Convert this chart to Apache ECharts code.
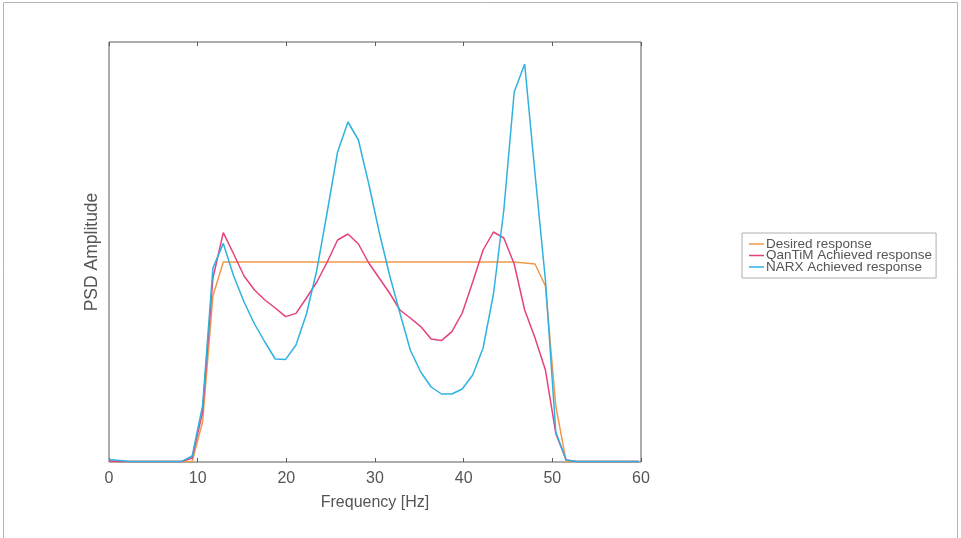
<!DOCTYPE html>
<html>
<head>
<meta charset="utf-8">
<script src="https://cdn.jsdelivr.net/npm/echarts@6/dist/echarts.min.js"></script>
<style>
  html, body { margin: 0; padding: 0; background: #fff; }
  #chart { width: 961px; height: 538px; }
</style>
</head>
<body>
<div id="chart"></div>
<script>
// Frequency bins (Hz), 300/256 Hz spacing
const freqHz = [
  0.00, 1.17, 2.34, 3.52, 4.69, 5.86, 7.03, 8.20, 9.38, 10.55,
  11.72, 12.89, 14.06, 15.23, 16.41, 17.58, 18.75, 19.92, 21.09, 22.27,
  23.44, 24.61, 25.78, 26.95, 28.13, 29.30, 30.47, 31.64, 32.81, 33.98,
  35.16, 36.33, 37.50, 38.67, 39.84, 41.02, 42.19, 43.36, 44.53, 45.70,
  46.88, 48.05, 49.22, 50.39, 51.56, 52.73, 53.91, 55.08, 56.25, 57.42,
  58.59, 59.77
];

// Target band-limited PSD (flat between ~13 and ~48 Hz)
const desiredPsd = [
  0.003, 0.003, 0.003, 0.003, 0.003, 0.003, 0.003, 0.003, 0.003, 0.20,
  0.83, 1.0, 1.0, 1.0, 1.0, 1.0, 1.0, 1.0, 1.0, 1.0,
  1.0, 1.0, 1.0, 1.0, 1.0, 1.0, 1.0, 1.0, 1.0, 1.0,
  1.0, 1.0, 1.0, 1.0, 1.0, 1.0, 1.0, 1.0, 1.0, 1.0,
  0.995, 0.99, 0.88, 0.28, 0.003, 0.003, 0.003, 0.003, 0.003, 0.003,
  0.003, 0.003
];

// PSD achieved with the QanTiM controller
const qantimPsd = [
  0.005, 0.003, 0.002, 0.002, 0.002, 0.002, 0.002, 0.002, 0.02, 0.25,
  0.92, 1.147, 1.04, 0.93, 0.86, 0.81, 0.77, 0.727, 0.743, 0.82,
  0.90, 1.0, 1.11, 1.14, 1.09, 0.995, 0.92, 0.845, 0.76, 0.72,
  0.677, 0.615, 0.607, 0.652, 0.745, 0.90, 1.06, 1.15, 1.12, 0.99,
  0.76, 0.62, 0.46, 0.143, 0.01, 0.002, 0.002, 0.002, 0.002, 0.002,
  0.002, 0.002
];

// PSD achieved with the NARX controller
const narxPsd = [
  0.012, 0.008, 0.003, 0.002, 0.002, 0.002, 0.002, 0.003, 0.03, 0.28,
  0.97, 1.093, 0.93, 0.80, 0.69, 0.60, 0.515, 0.513, 0.585, 0.74,
  0.96, 1.25, 1.55, 1.70, 1.61, 1.39, 1.15, 0.935, 0.745, 0.56,
  0.45, 0.375, 0.34, 0.34, 0.365, 0.435, 0.57, 0.84, 1.26, 1.85,
  1.99, 1.44, 0.91, 0.15, 0.01, 0.002, 0.002, 0.002, 0.002, 0.002,
  0.002, 0.002
];

const seriesNames = ['Desired response', 'QanTiM Achieved response', 'NARX Achieved response'];
const seriesColors = ['#f0994a', '#e4417f', '#2fb2e0'];
const xTicks = { min: 0, max: 60, interval: 10 };

const pairs = (ys) => freqHz.map((f, i) => [f, ys[i]]);

const chart = echarts.init(document.getElementById('chart'));
const font = 'Liberation Sans, Arial, sans-serif';

chart.setOption({
  animation: false,
  backgroundColor: '#ffffff',
  graphic: [{
    type: 'rect',
    shape: { x: 3.5, y: 2.5, width: 954, height: 560 },
    style: { fill: 'none', stroke: '#b4b4b4', lineWidth: 1 },
    silent: true
  }],
  grid: {
    left: 109, right: 320, top: 42, bottom: 76,
    show: true, borderColor: '#5a5a5a', borderWidth: 1, backgroundColor: 'transparent'
  },
  legend: {
    data: seriesNames.map((n, k) => ({ name: n, itemStyle: { color: seriesColors[k] } })),
    orient: 'vertical',
    left: 742, top: 233,
    padding: [4, 4, 4, 7],
    itemGap: -2.5,
    icon: 'rect',
    itemWidth: 15, itemHeight: 1.5,
    borderColor: '#b0b0b0', borderWidth: 1,
    textStyle: { fontFamily: font, fontSize: 13.5, color: '#555', padding: [0, 0, 0, -3] }
  },
  xAxis: [{
    type: 'value',
    min: xTicks.min, max: xTicks.max, interval: xTicks.interval,
    name: 'Frequency [Hz]',
    nameLocation: 'middle', nameGap: 33,
    nameTextStyle: { fontFamily: font, fontSize: 16, color: '#555' },
    axisLine: { show: false },
    axisTick: { show: true, inside: true, length: 4, lineStyle: { color: '#5a5a5a' } },
    axisLabel: { fontFamily: font, fontSize: 16, color: '#555', margin: 9 },
    splitLine: { show: false }
  }, {
    type: 'value', position: 'top',
    min: xTicks.min, max: xTicks.max, interval: xTicks.interval,
    axisLine: { show: false },
    axisTick: { show: true, inside: true, length: 4, lineStyle: { color: '#5a5a5a' } },
    axisLabel: { show: false },
    splitLine: { show: false }
  }],
  yAxis: {
    type: 'value',
    min: 0, max: 2.1,
    name: 'PSD Amplitude',
    nameLocation: 'middle', nameGap: 8,
    nameTextStyle: { fontFamily: font, fontSize: 17.5, color: '#555' },
    axisLine: { show: false },
    axisTick: { show: false },
    axisLabel: { show: false },
    splitLine: { show: false }
  },
  series: [desiredPsd, qantimPsd, narxPsd].map((ys, k) => ({
    name: seriesNames[k],
    type: 'line',
    data: pairs(ys),
    symbol: 'none',
    color: seriesColors[k],
    lineStyle: { width: 1.5, color: seriesColors[k] },
    z: 2 + k
  }))
});
</script>
</body>
</html>
